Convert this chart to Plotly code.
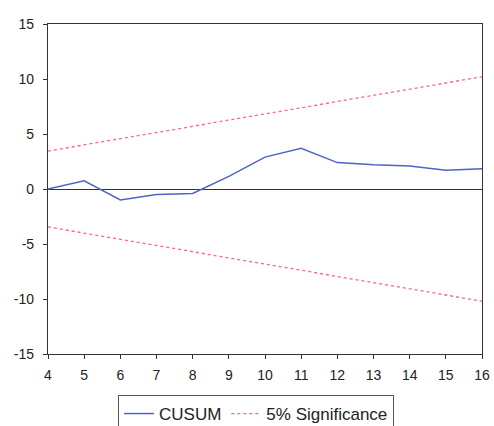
import plotly.graph_objects as go

periods = [4, 5, 6, 7, 8, 9, 10, 11, 12, 13, 14, 15, 16]
cusum = [0.0, 0.75, -1.0, -0.5, -0.4, 1.15, 2.9, 3.7, 2.4, 2.2, 2.1, 1.7, 1.85]
band_x = [4, 16]
upper = [3.45, 10.2]
lower = [-3.45, -10.2]
y_ticks = [-15, -10, -5, 0, 5, 10, 15]
y_tick_labels = ["-15", "-10", "-5", "0", "5", "10", "15"]

blue = "#4f63c4"
red = "#ff6677"

W, H = 494, 426

fig = go.Figure()
fig.add_trace(go.Scatter(x=periods, y=cusum, mode="lines", name="CUSUM",
                         line=dict(color=blue, width=1.5)))
fig.add_trace(go.Scatter(x=band_x, y=upper, mode="lines", name="5% Significance",
                         line=dict(color=red, width=1.3, dash="dot")))
fig.add_trace(go.Scatter(x=band_x, y=lower, mode="lines", showlegend=False,
                         line=dict(color=red, width=1.3, dash="dot")))

axis_font = dict(family="Liberation Sans, Arial, sans-serif", size=14, color="#222")
fig.update_layout(
    width=W, height=H,
    margin=dict(l=48, r=12, t=24, b=72, autoexpand=False),
    paper_bgcolor="white", plot_bgcolor="white",
    font=axis_font,
    showlegend=True,
    legend=dict(orientation="h", xref="container", yref="container",
                x=118 / W, y=1 - 395 / H, xanchor="left", yanchor="top",
                bordercolor="#555", borderwidth=1, bgcolor="white",
                font=dict(family="Liberation Sans, Arial, sans-serif", size=17, color="#222"),
                itemwidth=30, tracegroupgap=0),
    xaxis=dict(range=[4, 16], tickmode="array", tickvals=periods,
               ticks="outside", ticklen=4, tickcolor="#333", ticklabelstandoff=4,
               ticklabeloverflow="allow",
               showline=True, linecolor="#333", linewidth=1.2, mirror=True,
               showgrid=False, zeroline=False, tickfont=axis_font, automargin=False),
    yaxis=dict(range=[-15, 15], tickmode="array", tickvals=y_ticks, ticktext=y_tick_labels,
               ticks="outside", ticklen=4, tickcolor="#333", ticklabelstandoff=6,
               showline=True, linecolor="#333", linewidth=1.2, mirror=True,
               showgrid=False, zeroline=True, zerolinecolor="#333", zerolinewidth=1,
               tickfont=axis_font, automargin=False),
)

fig.write_html("out.html", config={"displayModeBar": False},
               post_script="document.body.style.margin='0';document.body.style.overflow='hidden';")
